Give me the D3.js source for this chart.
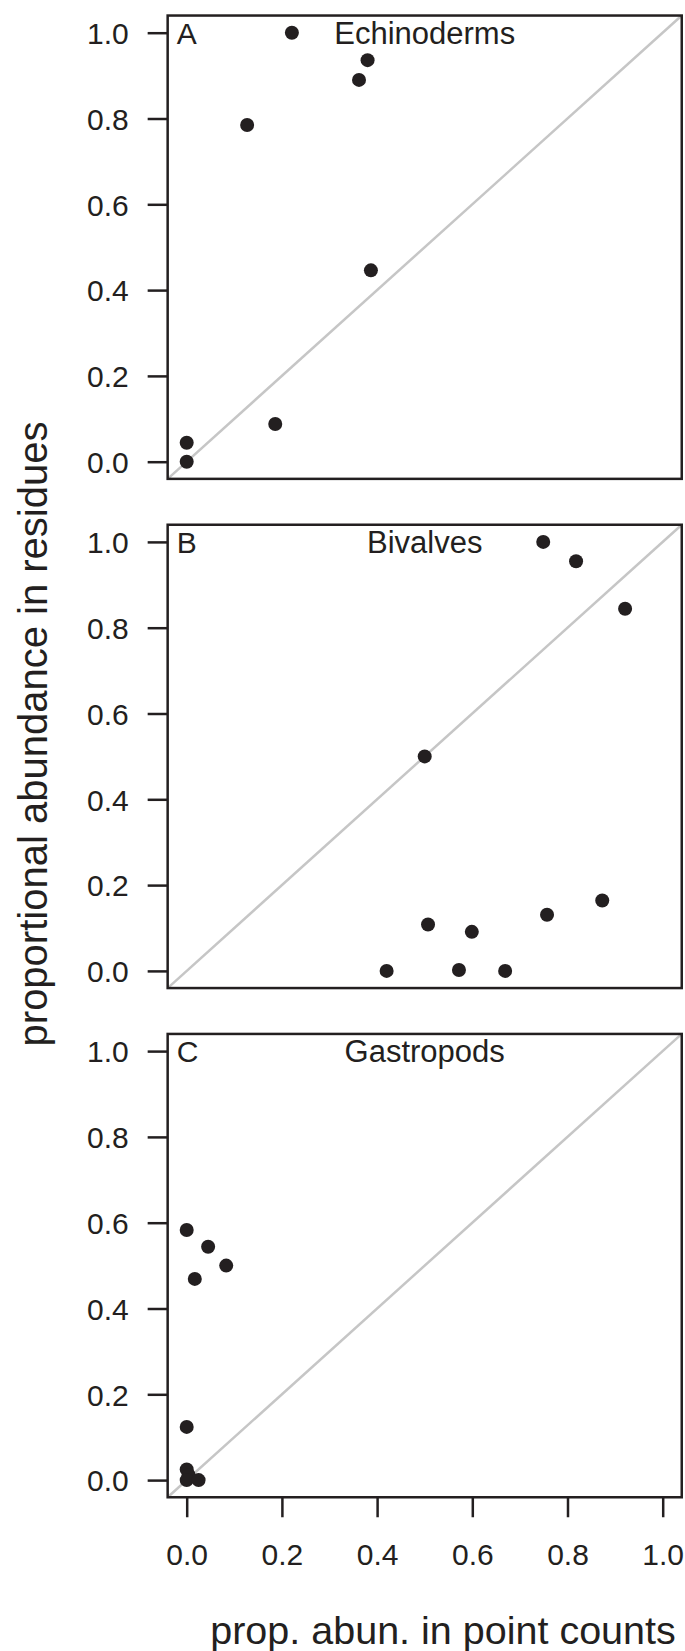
<!DOCTYPE html>
<html>
<head>
<meta charset="utf-8">
<script src="https://cdn.jsdelivr.net/npm/d3@7"></script>
<style>
  body { margin: 0; background: #fff; }
  svg text { font-family: "Liberation Sans", Arial, Helvetica, sans-serif; fill: #231f20; }
</style>
</head>
<body>
<div id="chart"></div>
<script>
// Panel labels
const panelLetters = ["A", "B", "C"];
const panelNames = ["Echinoderms", "Bivalves", "Gastropods"];

// Echinoderms (A)
const echinoX = [0.221, 0.380, 0.362, 0.127, 0.387, 0.186, 0.0, 0.0];
const echinoY = [1.0, 0.936, 0.890, 0.785, 0.446, 0.088, 0.044, 0.0];

// Bivalves (B)
const bivalveX = [0.749, 0.818, 0.921, 0.5, 0.420, 0.507, 0.599, 0.572, 0.669, 0.757, 0.873];
const bivalveY = [1.0, 0.955, 0.844, 0.5, 0.0, 0.108, 0.091, 0.002, 0.0, 0.131, 0.164];

// Gastropods (C)
const gastroX = [0.0, 0.045, 0.083, 0.017, 0.0, 0.0, 0.004, 0.0, 0.025];
const gastroY = [0.583, 0.544, 0.5, 0.469, 0.124, 0.025, 0.012, 0.0, 0.0];

// Axis ticks
const tickValues = [0, 0.2, 0.4, 0.6, 0.8, 1.0];
const tickLabels = ["0.0", "0.2", "0.4", "0.6", "0.8", "1.0"];

const xTitle = "prop. abun. in point counts";
const yTitle = "proportional abundance in residues";

function init() {
    const w = 685;
    const h = 1651;
    const ink = "#231f20";
    const pad = 0.04;          // R style axis extension
    const panelTop = 32.7;     // y of 1.0 in first panel
    const panelStep = 509.2;   // distance between panels
    const panelSpan = 429;     // px per unit in y
    const tickLen = 20;

    const panels = [
        { xs: echinoX, ys: echinoY },
        { xs: bivalveX, ys: bivalveY },
        { xs: gastroX, ys: gastroY }
    ];

    const x = d3.scaleLinear().domain([0, 1]).range([186.7, 662.7]);

    const svg = d3.select("#chart")
        .append("svg")
        .attr("width", w)
        .attr("height", h);

    panels.forEach((p, i) => {
        const top = panelTop + i * panelStep;
        const y = d3.scaleLinear().domain([0, 1]).range([top + panelSpan, top]);
        const g = svg.append("g");

        // 1:1 line, corner to corner
        g.append("line")
            .attr("x1", x(-pad)).attr("y1", y(-pad))
            .attr("x2", x(1 + pad)).attr("y2", y(1 + pad))
            .attr("stroke", "#c6c6c6")
            .attr("stroke-width", 2.5);

        // points
        g.selectAll("circle")
            .data(p.xs.map((v, k) => [v, p.ys[k]]))
            .enter()
            .append("circle")
            .attr("cx", d => x(d[0]))
            .attr("cy", d => y(d[1]))
            .attr("r", 7)
            .attr("fill", ink);

        // box
        g.append("rect")
            .attr("x", x(-pad))
            .attr("y", y(1 + pad))
            .attr("width", x(1 + pad) - x(-pad))
            .attr("height", y(-pad) - y(1 + pad))
            .attr("fill", "none")
            .attr("stroke", ink)
            .attr("stroke-width", 2.5);

        // y axis
        const yAxis = d3.axisLeft(y)
            .tickValues(tickValues)
            .tickFormat((d, k) => tickLabels[k])
            .tickSize(tickLen)
            .tickPadding(19);
        const ya = g.append("g")
            .attr("transform", `translate(${x(-pad)},0)`)
            .call(yAxis);
        ya.select(".domain").remove();
        ya.selectAll("line").attr("stroke", ink).attr("stroke-width", 2.5);
        ya.selectAll("text")
            .attr("font-size", "30px")
            .attr("fill", ink)
            .attr("dy", "0.36em");

        // panel letter and group name
        g.append("text")
            .attr("x", x(-pad) + 9)
            .attr("y", y(1) + 11.3)
            .attr("font-size", "30px")
            .text(panelLetters[i]);
        g.append("text")
            .attr("x", (x(-pad) + x(1 + pad)) / 2)
            .attr("y", y(1) + 11.3)
            .attr("text-anchor", "middle")
            .attr("font-size", "31px")
            .text(panelNames[i]);

        // x axis only on the bottom panel
        if (i === panels.length - 1) {
            const xAxis = d3.axisBottom(x)
                .tickValues(tickValues)
                .tickFormat((d, k) => tickLabels[k])
                .tickSize(tickLen)
                .tickPadding(26);
            const xa = g.append("g")
                .attr("transform", `translate(0,${y(-pad)})`)
                .call(xAxis);
            xa.select(".domain").remove();
            xa.selectAll("line").attr("stroke", ink).attr("stroke-width", 2.5);
            xa.selectAll("text")
                .attr("font-size", "30px")
                .attr("fill", ink)
                .attr("dy", "0.71em");
        }
    });

    // axis titles
    svg.append("text")
        .attr("x", 443)
        .attr("y", 1644)
        .attr("text-anchor", "middle")
        .attr("font-size", "39.5px")
        .text(xTitle);

    svg.append("text")
        .attr("transform", "translate(47,734) rotate(-90)")
        .attr("text-anchor", "middle")
        .attr("font-size", "40px")
        .text(yTitle);
}

window.onload = init;
</script>
</body>
</html>
